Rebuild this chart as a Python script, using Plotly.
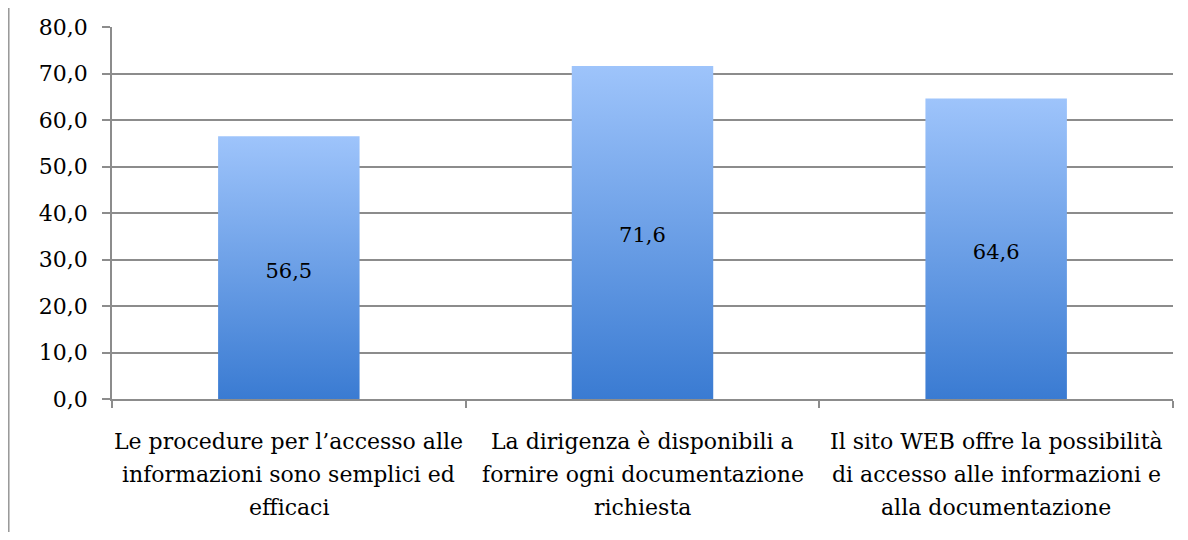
import plotly.graph_objects as go

category_lines = [
    ["Le procedure per l’accesso alle", "informazioni sono semplici ed", "efficaci"],
    ["La dirigenza è disponibili a", "fornire ogni documentazione", "richiesta"],
    ["Il sito WEB offre la possibilità", "di accesso alle informazioni e", "alla documentazione"],
]
values = [56.5, 71.6, 64.6]
value_labels = ["56,5", "71,6", "64,6"]
y_ticks = [0, 10, 20, 30, 40, 50, 60, 70, 80]

FONT = "DejaVu Serif"
FS = 22
BAR_HALF = 0.2
GRID = "#8c8c8c"
LINE_GAP = 33

fig = go.Figure()
for i, v in enumerate(values):
    fig.add_trace(go.Scatter(
        x=[i - BAR_HALF, i + BAR_HALF, i + BAR_HALF, i - BAR_HALF, i - BAR_HALF],
        y=[0, 0, v, v, 0],
        mode="lines", line=dict(width=0), fill="toself",
        fillgradient=dict(type="vertical",
                          colorscale=[[0, "#3a7bd2"], [1, "#9ec4fb"]]),
        hoverinfo="skip", showlegend=False,
    ))

fig.add_trace(go.Scatter(
    x=list(range(len(values))), y=[v / 2 - 1 for v in values],
    mode="text", text=value_labels,
    textfont=dict(family=FONT, size=FS - 1, color="#000000"),
    showlegend=False, hoverinfo="skip",
))

for i, lines in enumerate(category_lines):
    for j, line in enumerate(lines):
        fig.add_annotation(x=i, y=0, xref="x", yref="paper", text=line,
                           showarrow=False, yanchor="middle",
                           yshift=-(42 + j * LINE_GAP),
                           font=dict(family=FONT, size=FS, color="#000000"))

fig.add_shape(type="line", xref="paper", yref="paper",
              x0=-0.0975, x1=-0.0975, y0=-0.5, y1=1.2,
              line=dict(color="#9a9a9a", width=2))

fig.update_layout(
    width=1172, height=524,
    margin=dict(l=104, r=7, t=15, b=133),
    plot_bgcolor="white", paper_bgcolor="white",
    separators=",.",
    xaxis=dict(range=[-0.5, 2.5], tickvals=[-0.5, 0.5, 1.5, 2.5],
               ticktext=["", "", "", ""], ticks="outside", ticklen=7,
               tickcolor=GRID, tickwidth=1.5, showgrid=False,
               showline=True, linecolor=GRID, linewidth=1.5, zeroline=False),
    yaxis=dict(range=[0, 80], tickvals=y_ticks, tickformat=".1f",
               ticks="outside", ticklen=8, tickcolor=GRID, tickwidth=1.5,
               ticklabelstandoff=10,
               showgrid=True, gridcolor=GRID, gridwidth=1.5,
               showline=True, linecolor=GRID, linewidth=1.5, zeroline=False,
               tickfont=dict(family=FONT, size=FS, color="#000000")),
)

fig.write_html("out.html")
